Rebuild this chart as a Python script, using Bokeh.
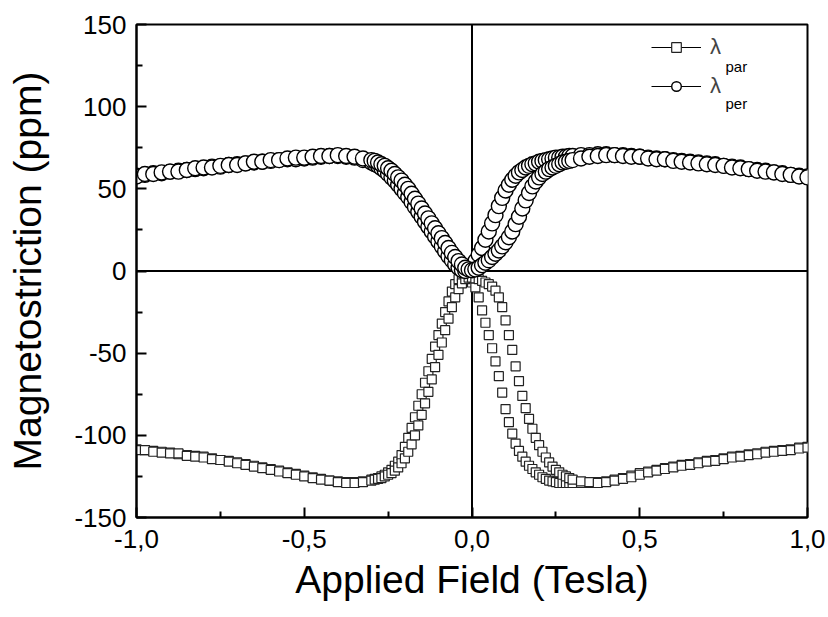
from bokeh.plotting import figure
from bokeh.models import (Range1d, FixedTicker, Span, Legend, LegendItem, Label,
                          ColumnDataSource)
from bokeh.embed import file_html
from bokeh.resources import INLINE

# ---------------- data ----------------
FIELD = [
    -1.0, -0.975, -0.95, -0.925, -0.9, -0.875, -0.85, -0.825, -0.8, -0.775,
    -0.75, -0.725, -0.7, -0.675, -0.65, -0.625, -0.6, -0.575, -0.55, -0.525,
    -0.5, -0.475, -0.45, -0.425, -0.4, -0.375, -0.35, -0.325,
    -0.30, -0.29, -0.28, -0.27, -0.26, -0.25, -0.24, -0.23, -0.22, -0.21,
    -0.20, -0.19, -0.18, -0.17, -0.16, -0.15, -0.14, -0.13, -0.12, -0.11,
    -0.10, -0.09, -0.08, -0.07, -0.06, -0.05, -0.04, -0.03, -0.02, -0.01,
    0.00, 0.01, 0.02, 0.03, 0.04, 0.05, 0.06, 0.07, 0.08, 0.09,
    0.10, 0.11, 0.12, 0.13, 0.14, 0.15, 0.16, 0.17, 0.18, 0.19,
    0.20, 0.21, 0.22, 0.23, 0.24, 0.25, 0.26, 0.27, 0.28, 0.29, 0.30,
    0.325, 0.35, 0.375, 0.4, 0.425, 0.45, 0.475, 0.5, 0.525, 0.55,
    0.575, 0.6, 0.625, 0.65, 0.675, 0.7, 0.725, 0.75, 0.775, 0.8,
    0.825, 0.85, 0.875, 0.9, 0.925, 0.95, 0.975, 1.0,
]

# lambda_per, two field sweeps (ppm)
PER_SWEEP_A = [
    58.0, 58.5, 59.5, 59.5, 60.5, 61.0, 61.5, 62.0, 62.5, 63.5,
    63.5, 64.5, 65.0, 65.5, 66.0, 66.5, 67.0, 67.5, 68.0, 68.0,
    68.5, 69.0, 69.5, 70.0, 70.0, 69.5, 69.0, 67.5,
    66.0, 65.0, 64.0, 62.5, 61.0, 59.0, 57.0, 55.0, 52.5, 50.0,
    47.5, 45.0, 42.0, 39.0, 36.0, 33.0, 30.0, 27.0, 24.0, 21.0,
    18.0, 15.0, 12.0, 9.0, 6.5, 4.0, 2.0, 0.5, 0.0, 1.5,
    3.0, 6.0, 10.0, 14.0, 19.0, 24.0, 29.0, 34.0, 39.5, 44.5,
    49.0, 52.5, 55.5, 58.0, 60.0, 61.5, 63.0, 64.0, 65.0, 65.5,
    66.5, 67.0, 67.5, 68.0, 68.5, 69.0, 69.0, 69.5, 69.5, 70.0, 70.0,
    70.5, 70.5, 71.0, 71.0, 70.5, 70.5, 70.0, 69.5, 69.0, 68.5,
    68.0, 67.5, 67.0, 66.5, 66.0, 65.5, 65.0, 64.0, 63.5, 63.0,
    62.0, 61.5, 61.0, 60.0, 59.5, 58.5, 58.0, 57.5,
]
PER_SWEEP_B = [
    57.5, 59.0, 59.0, 60.0, 60.5, 60.5, 61.5, 62.5, 63.0, 63.0,
    64.0, 64.5, 64.5, 65.5, 66.5, 66.5, 67.5, 67.5, 68.5, 69.0,
    69.0, 69.5, 70.0, 70.0, 70.5, 70.0, 69.5, 68.5,
    67.5, 67.0, 66.0, 65.0, 64.0, 62.5, 61.0, 59.0, 57.0, 55.0,
    52.5, 50.0, 47.0, 44.0, 41.0, 38.0, 35.0, 32.0, 29.0, 26.0,
    23.0, 20.0, 17.0, 14.0, 11.0, 8.5, 6.0, 4.0, 2.0, 1.0,
    0.5, 1.0, 2.0, 3.5, 5.0, 6.5, 8.5, 10.5, 12.5, 15.0,
    17.5, 20.5, 24.0, 28.5, 33.0, 38.0, 43.0, 47.5, 51.5, 54.5,
    57.0, 59.0, 60.5, 62.0, 63.0, 64.0, 65.0, 66.0, 66.5, 67.0, 67.5,
    68.5, 69.5, 70.0, 70.5, 70.5, 70.0, 69.5, 69.5, 68.5, 68.0,
    68.0, 67.0, 66.5, 66.0, 65.5, 65.0, 64.5, 64.0, 63.0, 62.5,
    62.0, 61.0, 60.5, 60.0, 59.0, 58.5, 57.5, 57.0,
]

# lambda_par, two field sweeps (ppm)
PAR_SWEEP_A = [
    -108.5, -109.0, -109.5, -110.0, -110.5, -111.5, -112.0, -112.5, -113.0, -114.0,
    -115.0, -115.5, -116.5, -117.5, -118.5, -119.5, -120.5, -121.5, -122.5, -123.5,
    -124.5, -125.5, -126.5, -127.5, -128.0, -128.5, -128.5, -128.0,
    -127.0, -126.5, -126.0, -125.0, -124.0, -122.5, -121.0, -118.5, -116.0, -112.0,
    -107.0, -101.5, -95.5, -89.0, -82.0, -75.0, -68.0, -61.0, -53.5, -46.0,
    -39.0, -32.0, -25.0, -18.5, -12.5, -8.0, -5.0, -3.5, -3.5, -5.0,
    -7.0, -10.0, -16.0, -24.0, -31.5, -39.0, -47.0, -55.0, -64.0, -74.0,
    -84.0, -92.0, -99.0, -105.0, -109.5, -113.0, -116.0, -118.5, -120.5, -122.5,
    -124.0, -125.5, -126.5, -127.5, -128.0, -128.5, -129.0, -129.0, -129.0, -129.0, -129.0,
    -129.0, -129.0, -128.5, -128.0, -127.0, -126.0, -124.5, -123.0, -122.0, -121.0,
    -120.0, -119.0, -118.0, -117.5, -116.5, -115.5, -115.0, -114.0, -113.0, -112.5,
    -111.5, -111.0, -110.0, -109.5, -109.0, -108.5, -107.5, -107.0,
]
PAR_SWEEP_B = [
    -109.0, -109.0, -110.0, -110.5, -111.0, -111.0, -112.5, -113.0, -113.5, -114.5,
    -115.0, -116.0, -117.0, -118.0, -119.0, -120.0, -121.0, -122.0, -123.0, -124.0,
    -125.0, -126.0, -127.0, -127.5, -128.5, -129.0, -129.0, -128.5,
    -127.5, -127.0, -126.5, -126.0, -125.0, -124.0, -123.0, -121.5, -119.5, -117.0,
    -114.0, -110.0, -105.5, -100.0, -94.0, -87.5, -80.5, -73.5, -66.0, -58.5,
    -51.0, -43.5, -36.0, -29.0, -22.0, -16.0, -11.0, -7.5, -5.0, -4.0,
    -4.0, -4.5, -5.0, -6.0, -7.0, -8.0, -9.5, -12.0, -16.0, -22.0,
    -30.0, -39.0, -48.0, -58.0, -67.0, -76.0, -83.5, -90.0, -96.0, -101.5,
    -106.0, -110.0, -113.5, -116.5, -119.0, -121.0, -122.5, -124.0, -125.0, -126.0, -127.0,
    -128.0, -128.5, -129.0, -128.5, -127.5, -126.5, -125.5, -124.0, -122.5, -121.5,
    -120.5, -119.5, -118.5, -118.0, -117.0, -116.0, -115.5, -114.5, -113.5, -113.0,
    -112.0, -111.5, -110.5, -110.0, -109.5, -109.0, -108.0, -107.5,
]

X_TICKS = [-1.0, -0.5, 0.0, 0.5, 1.0]
X_TICK_LABELS = ["-1,0", "-0,5", "0,0", "0,5", "1,0"]
X_MINOR = [-0.75, -0.25, 0.25, 0.75]
Y_TICKS = [-150, -100, -50, 0, 50, 100, 150]
Y_TICK_LABELS = ["-150", "-100", "-50", "0", "50", "100", "150"]
Y_MINOR = [-125, -75, -25, 25, 75, 125]

FONT = "Liberation Sans"

# ---------------- figure ----------------
p = figure(width=828, height=617, output_backend="svg", toolbar_location=None,
           x_range=Range1d(-1.0, 1.0), y_range=Range1d(-150, 150),
           min_border_left=136, min_border_right=21, min_border_top=24,
           min_border_bottom=100)
p.background_fill_color = "white"
p.border_fill_color = "white"
p.outline_line_color = "black"
p.outline_line_width = 2
p.xgrid.visible = False
p.ygrid.visible = False

for ax in (p.xaxis[0], p.yaxis[0]):
    ax.axis_line_width = 2
    ax.axis_line_color = "black"
    ax.major_tick_in = 10
    ax.major_tick_out = 0
    ax.minor_tick_in = 6
    ax.minor_tick_out = 0
    ax.major_tick_line_width = 2
    ax.minor_tick_line_width = 2
    ax.major_label_text_font = FONT
    ax.major_label_text_font_size = "26px"
    ax.major_label_text_color = "black"
    ax.axis_label_text_font = FONT
    ax.axis_label_text_font_size = "39px"
    ax.axis_label_text_font_style = "normal"
    ax.axis_label_text_color = "black"

p.xaxis.ticker = FixedTicker(ticks=X_TICKS, minor_ticks=X_MINOR)
p.xaxis.major_label_overrides = {t: l for t, l in zip(X_TICKS, X_TICK_LABELS)}
p.yaxis.ticker = FixedTicker(ticks=Y_TICKS, minor_ticks=Y_MINOR)
p.yaxis.major_label_overrides = {t: l for t, l in zip(Y_TICKS, Y_TICK_LABELS)}
p.xaxis.axis_label = "Applied Field (Tesla)"
p.yaxis.axis_label = "Magnetostriction (ppm)"
p.xaxis.major_label_standoff = 12
p.yaxis.major_label_standoff = 10
p.xaxis.axis_label_standoff = 7
p.yaxis.axis_label_standoff = 22

# zero lines
p.add_layout(Span(location=0, dimension="height", line_color="black",
                  line_width=2, level="underlay"))
p.add_layout(Span(location=0, dimension="width", line_color="black",
                  line_width=2, level="underlay"))

src = ColumnDataSource(dict(x=FIELD, par_a=PAR_SWEEP_A, par_b=PAR_SWEEP_B,
                            per_a=PER_SWEEP_A, per_b=PER_SWEEP_B))

# invisible lines (legend only, like Origin's line+symbol legend)
ln_par = p.line("x", "par_a", source=src, line_color="black", line_width=1, visible=False)
ln_per = p.line("x", "per_a", source=src, line_color="black", line_width=1, visible=False)

sq_kw = dict(marker="square", size=9, fill_color="white", line_color="#222222",
             line_width=1.2)
sq_a = p.scatter("x", "par_a", source=src, **sq_kw)
sq_b = p.scatter("x", "par_b", source=src, **sq_kw)

ci_kw = dict(marker="circle", size=15, fill_color="white", line_color="black",
             line_width=1.4)
ci_a = p.scatter("x", "per_a", source=src, **ci_kw)
ci_b = p.scatter("x", "per_b", source=src, **ci_kw)

legend = Legend(items=[LegendItem(label="λ", renderers=[ln_par, sq_a]),
                       LegendItem(label="λ", renderers=[ln_per, ci_a])],
                location=(515, 418), glyph_width=50, glyph_height=24,
                label_height=24, spacing=13, padding=0, margin=0,
                label_standoff=9, border_line_alpha=0, background_fill_alpha=0,
                label_text_font=FONT, label_text_font_size="22px")
p.add_layout(legend)

for txt, yv in (("par", 124.4), ("per", 102.2)):
    p.add_layout(Label(x=0.7556, y=yv, text=txt, text_font=FONT,
                       text_font_size="15px", text_baseline="alphabetic",
                       text_color="black"))

open("out.html", "w").write(file_html(p, INLINE))
